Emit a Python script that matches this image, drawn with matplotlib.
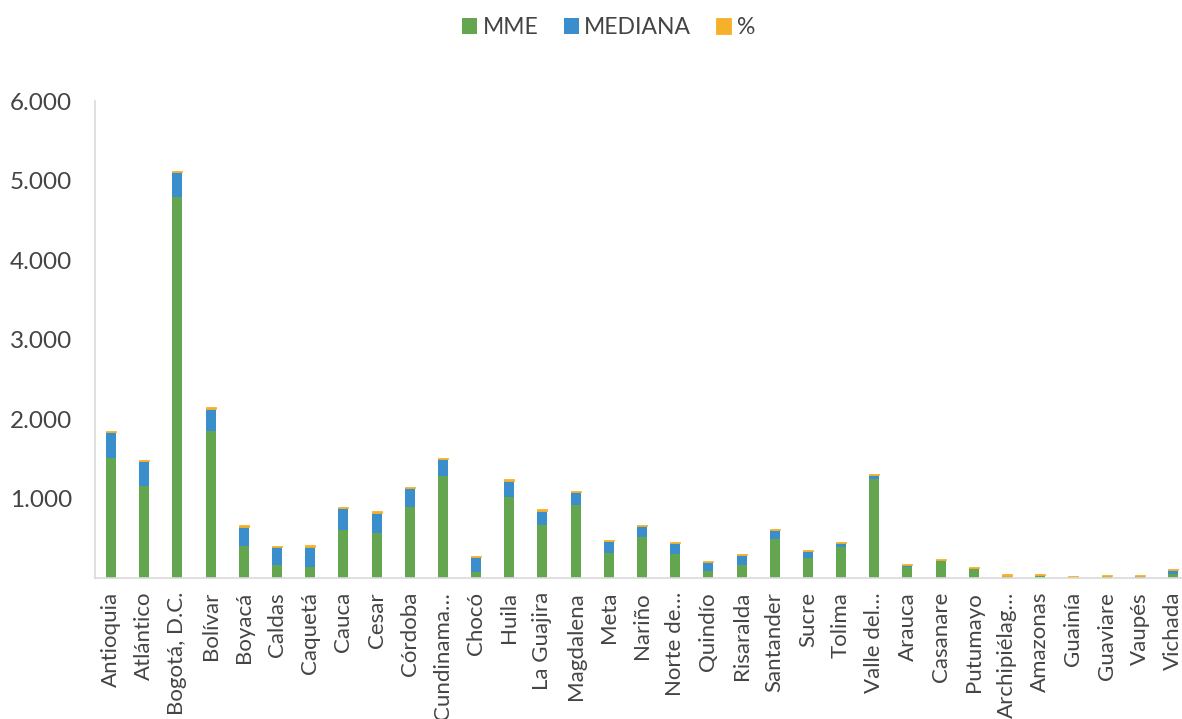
import numpy as np
import matplotlib.pyplot as plt
from matplotlib.ticker import FuncFormatter

plt.rcParams['font.family'] = ['Lato', 'DejaVu Sans']

deptos = ['Antioquia', 'Atlántico', 'Bogotá, D.C.', 'Bolívar', 'Boyacá', 'Caldas',
          'Caquetá', 'Cauca', 'Cesar', 'Córdoba', 'Cundinama…', 'Chocó', 'Huila',
          'La Guajira', 'Magdalena', 'Meta', 'Nariño', 'Norte de…', 'Quindío',
          'Risaralda', 'Santander', 'Sucre', 'Tolima', 'Valle del…', 'Arauca',
          'Casanare', 'Putumayo', 'Archipiélag…', 'Amazonas', 'Guainía', 'Guaviare',
          'Vaupés', 'Vichada']
mme = [1512, 1157, 4796, 1849, 403, 159, 142, 604, 570, 889, 1287, 75, 1015,
       663, 914, 319, 512, 298, 84, 159, 487, 247, 394, 1241, 134, 210, 113,
       15, 25, 5, 15, 3, 46]
mediana = [328, 311, 314, 277, 243, 227, 252, 277, 252, 243, 210, 189, 209,
           184, 168, 151, 146, 138, 121, 134, 121, 88, 50, 50, 34, 16, 13,
           15, 17, 8, 12, 25, 50]
pct = [13, 12, 13, 21, 17, 17, 17, 12, 17, 13, 16, 17, 17, 17, 12, 12, 13,
       13, 13, 13, 12, 13, 13, 17, 12, 13, 12, 15, 15, 12, 13, 13, 17]

c_mme = '#64a650'
c_med = '#3b8ecc'
c_pct = '#f6b12a'
gris = '#444444'

fig = plt.figure(figsize=(11.82, 7.19), dpi=100)
n = len(deptos)
x = np.arange(n)
ax = fig.add_axes([94.5 / 1182, 0.196, 1095 / 1182, 0.6634])

w = 0.3
b1 = np.array(mme)
b2 = b1 + np.array(mediana)
ax.bar(x, mme, w, color=c_mme, label='MME')
ax.bar(x, mediana, w, bottom=b1, color=c_med, label='MEDIANA')
# franja fina, con borde para que se vea siempre
ax.bar(x, pct, w, bottom=b2, color=c_pct, edgecolor=c_pct, lw=0.6, label='%')

ax.set_xlim(-0.5, n - 0.5)
ax.set_ylim(0, 6000)
ax.set_yticks(range(0, 6001, 1000))
ax.yaxis.set_major_formatter(FuncFormatter(lambda v, p: '' if v == 0 else f'{int(v):,}'.replace(',', '.')))
ax.set_xticks(x)
ax.set_xticklabels(deptos, rotation=90, fontsize=16, color=gris)
ax.tick_params(axis='y', labelsize=17.5, colors=gris, length=0, pad=16)
ax.tick_params(axis='x', length=0, pad=10)

for s in ['top', 'right']:
    ax.spines[s].set_visible(False)
for s in ['left', 'bottom']:
    ax.spines[s].set_color('#d9d9d9')
    ax.spines[s].set_linewidth(1.2)

fig.legend(loc='upper center', bbox_to_anchor=(0.515, 1.005), ncol=3, frameon=False,
           fontsize=16.5, labelcolor=gris, handlelength=0.65, handleheight=0.65,
           handletextpad=0.25, columnspacing=1.1)

fig.savefig('out.png', dpi=100)
